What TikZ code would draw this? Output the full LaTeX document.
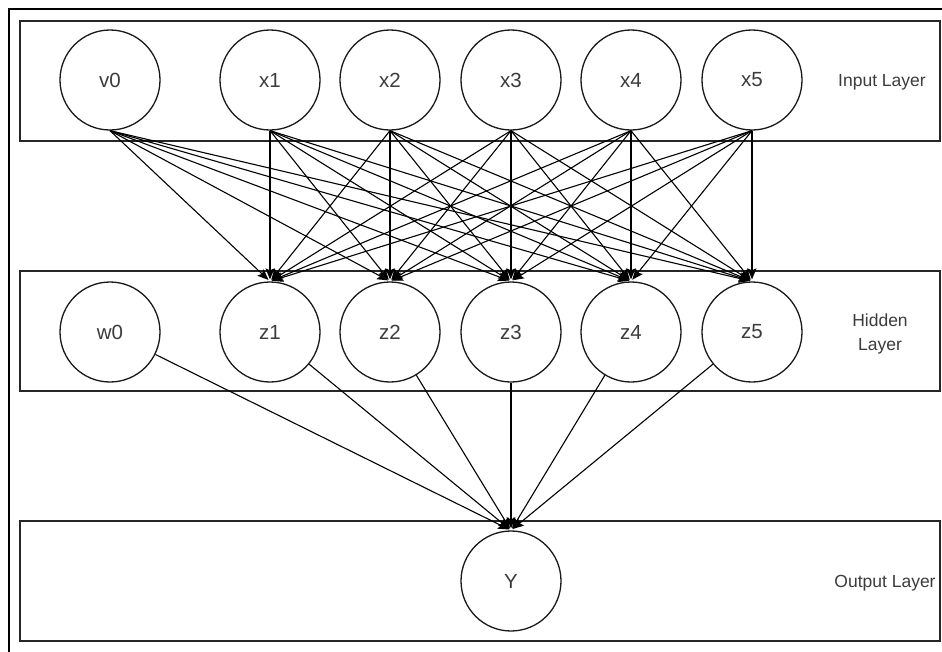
\documentclass[tikz,border=0pt]{standalone}
\usepackage{fontspec}
\setmainfont{Liberation Sans}
\usetikzlibrary{arrows.meta}

\definecolor{labelgray}{RGB}{60,60,60}

\tikzset{
  layerbox/.style={draw=black!85, line width=1.6pt, fill=white},
  neuron/.style={circle, draw=black!90, line width=1.3pt, fill=white,
    minimum size=100pt, inner sep=0pt, text=labelgray,
    font=\fontsize{20.5}{24}\selectfont},
  layerlabel/.style={text=labelgray, align=center,
    font=\fontsize{17.5}{24}\selectfont},
  link/.style={draw=black, line width=1.1pt,
    -{Stealth[length=11pt, width=9pt, inset=2pt]}}
}

\begin{document}
\begin{tikzpicture}[x=1pt, y=-1pt]
  \useasboundingbox (0,0) rectangle (942,651);

  % outer frame (only its top and left edges fall on the page)
  \draw[line width=1.8pt] (9,660) -- (9,9) -- (950,9);

  % layer bands
  \draw[layerbox] (20,21) rectangle (940,141);
  \draw[layerbox] (20,271) rectangle (940,391);
  \draw[layerbox] (20,521) rectangle (940,641);

  % input layer
  \node[neuron] (v0) at (110,80) {v0};
  \node[neuron] (x1) at (270,80) {x1};
  \node[neuron] (x2) at (390,80) {x2};
  \node[neuron] (x3) at (511,80) {x3};
  \node[neuron] (x4) at (631,80) {x4};
  \node[neuron] (x5) at (752,80) {x5};
  \node[layerlabel] (inlab) at (882,82) {Input Layer};

  % hidden layer
  \node[neuron] (w0) at (110,332) {w0};
  \node[neuron] (z1) at (270,332) {z1};
  \node[neuron] (z2) at (390,332) {z2};
  \node[neuron] (z3) at (511,332) {z3};
  \node[neuron] (z4) at (631,332) {z4};
  \node[neuron] (z5) at (752,332) {z5};
  \node[layerlabel] (hidlab) at (880,334) {Hidden\\Layer};

  % output layer
  \node[neuron] (Y) at (511,581) {Y};
  \node[layerlabel] (outlab) at (885,583) {Output Layer};

  % input -> hidden, fully connected
  \foreach \s in {v0,x1,x2,x3,x4,x5}
    \foreach \t in {z1,z2,z3,z4,z5}
      \draw[link, shorten >=2pt] (\s.south) -- (\t.north);

  % hidden -> output
  \foreach \s in {w0,z1,z2,z4,z5}
    \draw[link, shorten >=2pt] (\s) -- (Y.north);
  \draw[link, shorten >=2pt] (z3.south) -- (Y.north);
\end{tikzpicture}
\end{document}
